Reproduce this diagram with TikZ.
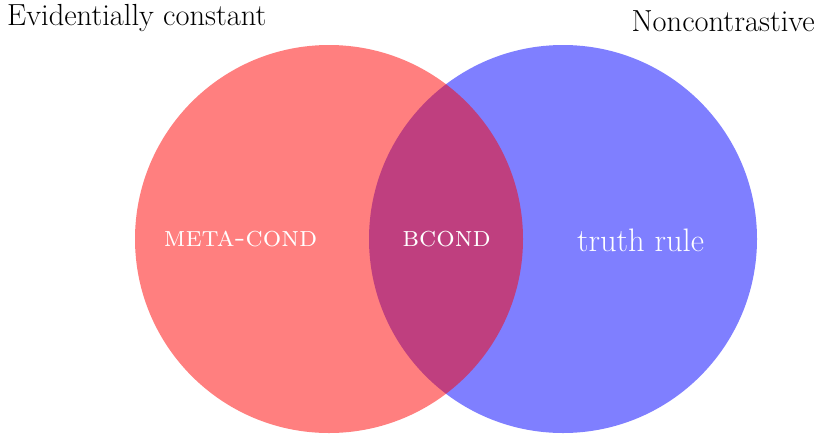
\documentclass[tikz,border=0pt]{standalone}
\begin{document}
\begin{tikzpicture}[x=1pt,y=-1pt,
  setcircle/.style={circle, inner sep=0pt, minimum size=388pt, fill opacity=0.5, draw=none},
  toplabel/.style={inner sep=0pt, font=\fontsize{30.5}{36}\selectfont},
  inlabel/.style={inner sep=0pt, text=white, font=\fontsize{29}{34}\selectfont\scshape},
  bigin/.style={inner sep=0pt, text=white, font=\fontsize{32.5}{38}\selectfont}]
\fill[white] (0,0) rectangle (818,437);
\useasboundingbox (0,0) rectangle (818,437);
\node[setcircle, fill=blue] (B) at (563,239) {};
\node[setcircle, fill=red] (A) at (329,239) {};
\node[toplabel, anchor=base west] (ec) at (7,25) {Evidentially constant};
\node[toplabel, anchor=base east] (nc) at (815,31) {Noncontrastive};
\node[inlabel] (mc) at (240.5,239) {meta-cond};
\node[inlabel] (bc) at (446.5,239) {bcond};
\node[bigin] (tr) at (640.5,240) {truth rule};
\end{tikzpicture}
\end{document}
